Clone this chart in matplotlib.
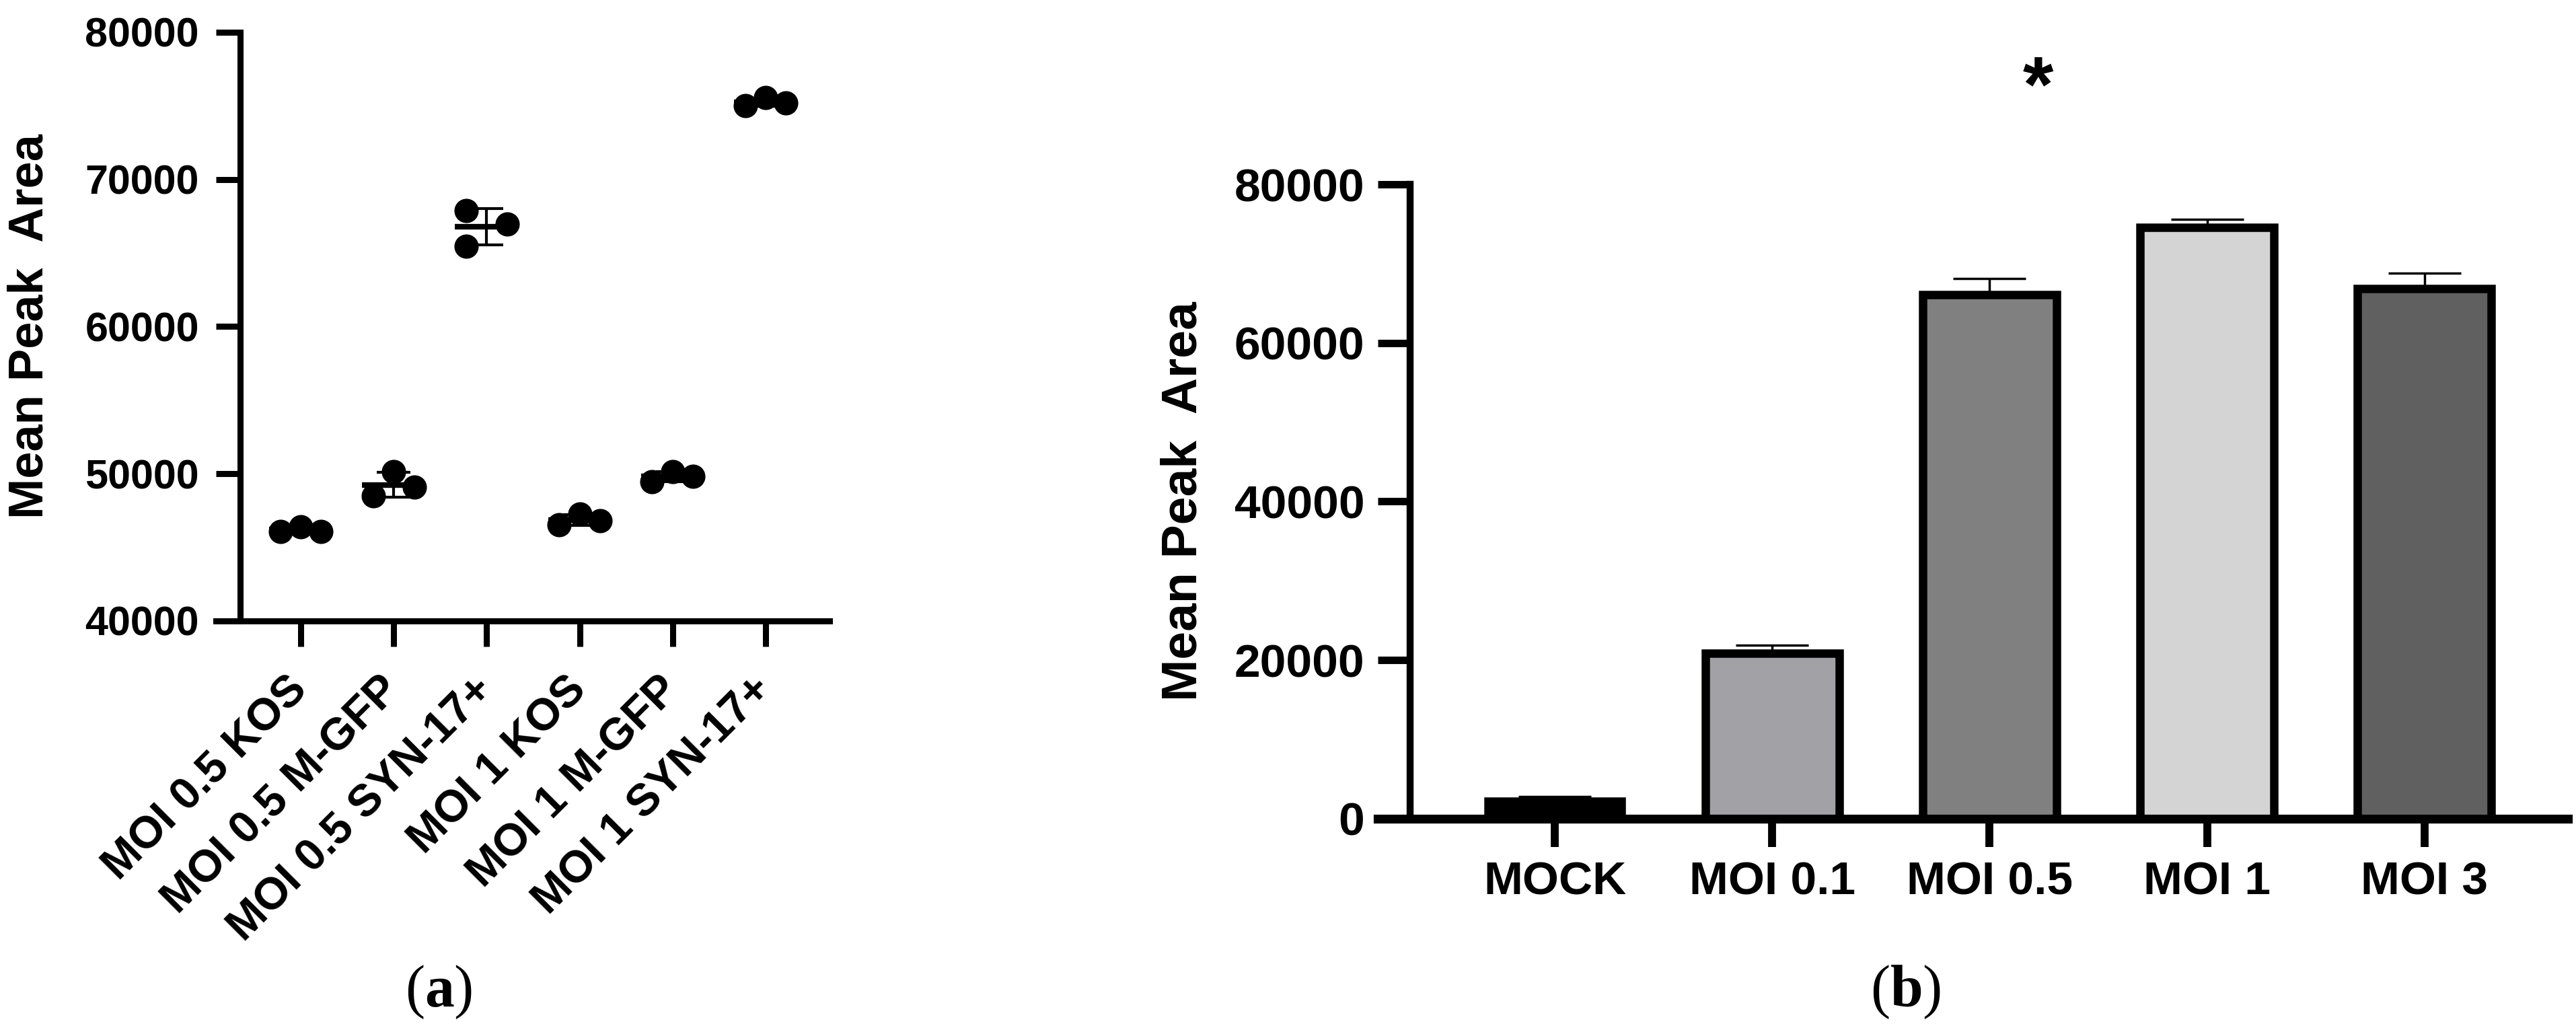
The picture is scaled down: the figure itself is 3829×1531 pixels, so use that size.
import numpy as np
import matplotlib
matplotlib.use("Agg")
import matplotlib.pyplot as plt

plt.rcParams['font.family'] = ['Liberation Sans', 'DejaVu Sans']
plt.rcParams['font.weight'] = 'bold'
plt.rcParams['axes.labelweight'] = 'bold'
plt.rcParams['mathtext.fontset'] = 'custom'
plt.rcParams['mathtext.rm'] = 'Liberation Serif'
plt.rcParams['mathtext.bf'] = 'Liberation Serif:bold'

# ---- panel (a): replicate peak areas per infection
a_labels = ['MOI 0.5 KOS', 'MOI 0.5 M-GFP', 'MOI 0.5 SYN-17+',
            'MOI 1 KOS', 'MOI 1 M-GFP', 'MOI 1 SYN-17+']
a_reps = [[46100, 46400, 46100],
          [48500, 50150, 49100],
          [67900, 66950, 65450],
          [46550, 47250, 46800],
          [49450, 50150, 49850],
          [75000, 75550, 75200]]
a_jit = [[-1, 0, 1], [-1, 0, 1], [-1, 1, -1], [-1, 0, 1], [-1, 0, 1], [-1, 0, 1]]
a_yticks = [40000, 50000, 60000, 70000, 80000]

# ---- panel (b): mean peak area by MOI
b_labels = ['MOCK', 'MOI 0.1', 'MOI 0.5', 'MOI 1', 'MOI 3']
b_means = [2200, 20850, 66100, 74550, 66850]
b_err = [600, 1000, 2000, 1000, 1950]
b_colors = ['#000000', '#a2a1a6', '#808080', '#d4d4d4', '#606060']
b_yticks = [0, 20000, 40000, 60000, 80000]

fig = plt.figure(figsize=(38.3, 15.31), dpi=100)

############## (a)
axa = fig.add_axes([0.08381, 0.39713, 0.23812, 0.57152])
xa = np.arange(len(a_labels))
for i, reps in enumerate(a_reps):
    reps = np.array(reps)
    m = reps.mean()
    sd = reps.std(ddof=1)
    axa.plot([i - 0.34, i + 0.34], [m, m], color='k', lw=6, solid_capstyle='butt', zorder=2)
    axa.errorbar(i, m, yerr=sd, fmt='none', ecolor='k', elinewidth=3,
                 capsize=18, capthick=3, zorder=2)
    axa.plot(i + 0.22 * np.array(a_jit[i]), reps, 'o', color='k', ms=25,
             zorder=3, clip_on=False)

axa.set_xlim(-0.912, 5.687)
axa.set_ylim(40000, 80000)
axa.spines[['top', 'right']].set_visible(False)
axa.spines['left'].set_position(('data', -0.651))
for s in ['left', 'bottom']:
    axa.spines[s].set_linewidth(6.5)
axa.set_yticks(a_yticks)
axa.set_xticks(xa)
axa.set_xticklabels(a_labels, rotation=45, ha='right', va='center', rotation_mode='anchor')
axa.tick_params(axis='y', length=26, width=6.5, labelsize=44, pad=18)
axa.tick_params(axis='x', length=27, width=6.5, labelsize=48, pad=40)
axa.set_ylabel('Mean Peak  Area', fontsize=52, fontweight='bold')
axa.yaxis.set_label_coords(-0.2654, 0.5)

############## (b)
axb = fig.add_axes([0.53473, 0.20510, 0.46188, 0.61593])
xb = np.arange(len(b_labels))
axb.errorbar(xb, b_means, yerr=[np.zeros(len(b_err)), b_err], fmt='none', ecolor='k',
             elinewidth=2.5, capsize=39, capthick=2.5, zorder=1)
axb.bar(xb, b_means, width=0.615, color=b_colors, edgecolor='k', linewidth=9, zorder=2)

axb.set_xlim(-0.814, 4.66)
axb.set_ylim(0, 80000)
axb.spines[['top', 'right']].set_visible(False)
axb.spines['left'].set_position(('data', -0.666))
axb.spines['left'].set_linewidth(7.5)
axb.spines['bottom'].set_linewidth(9.5)
axb.set_yticks(b_yticks)
axb.set_xticks(xb)
axb.set_xticklabels(b_labels)
axb.tick_params(axis='y', length=34.5, width=8, labelsize=50, pad=14)
axb.tick_params(axis='x', length=30, width=8.5, labelsize=50, pad=15)
axb.set_ylabel('Mean Peak  Area', fontsize=54, fontweight='bold')
axb.yaxis.set_label_coords(-0.1441, 0.5)
axb.text(2.223, 91800, '*', fontsize=84, fontweight='bold', ha='center', va='center',
         clip_on=False)

###
fig.text(652 / 3830, 1 - 1475 / 1531, r'($\mathbf{a}$)', family='Liberation Serif',
         fontweight='normal', fontsize=63, ha='center', va='center')
fig.text(2833 / 3830, 1 - 1475 / 1531, r'($\mathbf{b}$)', family='Liberation Serif',
         fontweight='normal', fontsize=63, ha='center', va='center')

fig.savefig('out.png', dpi=100, facecolor='white')
